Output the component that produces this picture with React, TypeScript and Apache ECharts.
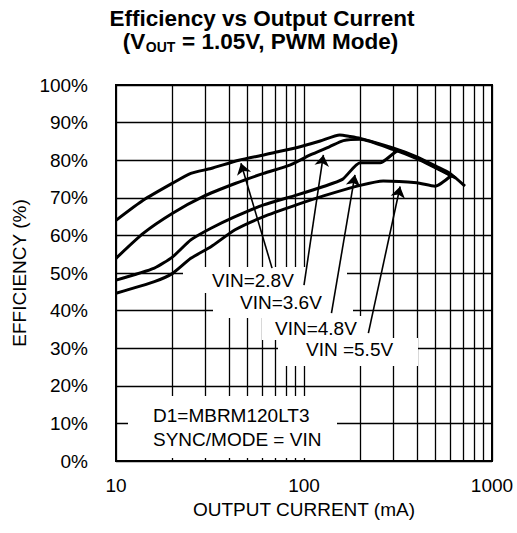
import React, { useEffect, useRef } from 'react';
import * as echarts from 'echarts';

// ---- data ----
const xMajorTicks = [10, 100, 1000];
const xMinorGrid = [20, 30, 40, 50, 60, 70, 80, 90, 200, 300, 400, 500, 600, 700, 800, 900];

const current28 = [10, 14, 20, 25, 32, 45, 61, 69, 91, 122, 155, 176, 199, 300, 398, 508, 598, 718];
const eff28 = [64, 69.4, 73.9, 76.5, 77.8, 80, 81.4, 82, 83.3, 85.1, 86.7, 86.3, 85.8, 83.2, 80.9, 78.3, 76.5, 73.1];

const current36 = [10, 14, 20, 29, 43, 61, 84, 108, 137, 162, 199, 300, 398, 508, 640];
const eff36 = [53.9, 60.6, 65.9, 70.3, 73.8, 76.5, 78.7, 81.4, 83.6, 85.2, 85.6, 82.8, 80.4, 77.8, 75.3];

const current48 = [10, 16, 20, 25, 32, 43, 61, 91, 127, 160, 199, 254, 318, 398, 508, 620];
const eff48 = [48.1, 51.3, 54.3, 58.8, 61.9, 65, 68.1, 70.7, 73, 74.9, 79.3, 79.3, 82.5, 80.6, 78, 75.6];

const current55 = [10, 16, 20, 25, 32, 43, 61, 91, 127, 199, 264, 398, 498, 610];
const eff55 = [44.6, 47.7, 49.9, 53.9, 57, 61.5, 65, 68.1, 70.5, 73.3, 74.5, 74, 73.1, 76];

const seriesNames = ['VIN=2.8V', 'VIN=3.6V', 'VIN=4.8V', 'VIN =5.5V'];
const arrowTailX = [67.6, 100, 140, 220];
const arrowTailY = [51.3, 46.8, 39.3, 34.0];
const arrowTipX = [46.2, 126.8, 186.6, 324.5];
const arrowTipY = [79.2, 81.4, 76.1, 73.0];

const titleLine1 = 'Efficiency vs Output Current';
const titleLine2Parts = ['(V', 'OUT', ' = 1.05V, PWM Mode)'];
const noteLines = ['D1=MBRM120LT3', 'SYNC/MODE = VIN'];

const FONT = '"Liberation Sans", Arial, Helvetica, sans-serif';

function pairs(xs: number[], ys: number[]) {
  return xs.map((x, i) => [x, ys[i]]);
}

export default function App() {
  const ref = useRef<HTMLDivElement>(null);
  useEffect(() => {
    if (!ref.current) return;
    const chart = echarts.init(ref.current, null, { renderer: 'svg' });
    const curveStyle = { color: '#000', width: 3 };
    const curve = (name: string, xs: number[], ys: number[]) => ({
      name,
      type: 'line',
      data: pairs(xs, ys),
      showSymbol: false,
      smooth: 0.2,
      lineStyle: curveStyle,
      itemStyle: { color: '#000' },
      z: 10,
      silent: true,
    });

    const labelBox = (x: number, y: number, w: number, h: number) => ({
      type: 'rect',
      shape: { x, y, width: w, height: h },
      style: { fill: '#fff' },
      z: 8,
      silent: true,
    });
    const label = (text: string, x: number, y: number) => ({
      type: 'text',
      x,
      y,
      style: { text, fill: '#000', font: `19px ${FONT}`, textAlign: 'left', textVerticalAlign: 'middle' },
      z: 9,
      silent: true,
    });

    // title line 2 layout (bold 22.5px main, 14px subscript)
    const mainSize = 22.5;
    const subSize = 14;
    const wV = 1.0 * mainSize; // "(V"
    const wSub = 2.111 * subSize; // "OUT"
    const wRest = 9.975 * mainSize;
    const start = 261 - (wV + wSub + wRest) / 2;

    chart.setOption({
      animation: false,
      textStyle: { fontFamily: FONT },
      grid: {
        left: 116,
        top: 85,
        width: 376,
        height: 376,
        show: true,
        borderColor: '#000',
        borderWidth: 2,
        backgroundColor: 'transparent',
      },
      xAxis: {
        type: 'log',
        logBase: 10,
        min: xMajorTicks[0],
        max: xMajorTicks[xMajorTicks.length - 1],
        axisLine: { show: true, lineStyle: { color: '#000', width: 2 } },
        axisTick: { show: false },
        axisLabel: {
          color: '#000',
          fontSize: 19,
          margin: 15,
          formatter: (v: number) => String(Math.round(v)),
        },
        splitLine: { show: true, lineStyle: { color: '#000', width: 1.3 } },
        name: 'OUTPUT CURRENT (mA)',
        nameLocation: 'middle',
        nameGap: 32,
        nameTextStyle: { color: '#000', fontSize: 19, verticalAlign: 'top' },
      },
      yAxis: {
        type: 'value',
        min: 0,
        max: 100,
        interval: 10,
        axisLine: { show: true, lineStyle: { color: '#000', width: 2 } },
        axisTick: { show: false },
        axisLabel: { color: '#000', fontSize: 19, margin: 28, formatter: '{value}%' },
        splitLine: { show: true, lineStyle: { color: '#000', width: 1.3 } },
        name: 'EFFICIENCY (%)',
        nameLocation: 'middle',
        nameRotate: 90,
        nameGap: 69,
        nameTextStyle: { color: '#000', fontSize: 19 },
      },
      graphic: [
        {
          type: 'text',
          x: 262,
          y: 18,
          style: {
            text: titleLine1,
            fill: '#000',
            font: `bold ${mainSize}px ${FONT}`,
            textAlign: 'center',
            textVerticalAlign: 'middle',
          },
          silent: true,
        },
        {
          type: 'text',
          x: start + wV,
          y: 41,
          style: {
            text: titleLine2Parts[0],
            fill: '#000',
            font: `bold ${mainSize}px ${FONT}`,
            textAlign: 'right',
            textVerticalAlign: 'middle',
          },
          silent: true,
        },
        {
          type: 'text',
          x: start + wV + 0.5,
          y: 47,
          style: {
            text: titleLine2Parts[1],
            fill: '#000',
            font: `bold ${subSize}px ${FONT}`,
            textAlign: 'left',
            textVerticalAlign: 'middle',
          },
          silent: true,
        },
        {
          type: 'text',
          x: start + wV + wSub + 1,
          y: 41,
          style: {
            text: titleLine2Parts[2],
            fill: '#000',
            font: `bold ${mainSize}px ${FONT}`,
            textAlign: 'left',
            textVerticalAlign: 'middle',
          },
          silent: true,
        },
        labelBox(183, 267, 164, 26),
        labelBox(213, 292, 140, 26),
        labelBox(262, 316, 103, 24),
        labelBox(278, 338, 140, 28),
        labelBox(128, 396, 209, 62),
        label(seriesNames[0], 212, 280),
        label(seriesNames[1], 240, 302),
        label(seriesNames[2], 275, 328),
        label(seriesNames[3], 306, 349),
        label(noteLines[0], 153, 415),
        label(noteLines[1], 153, 439),
      ],
      series: [
        {
          type: 'line',
          data: [],
          z: 1,
          silent: true,
          markLine: {
            z: 1,
            silent: true,
            symbol: ['none', 'none'],
            label: { show: false },
            lineStyle: { color: '#000', width: 1.3, type: 'solid' },
            emphasis: { disabled: true },
            data: xMinorGrid.map((v) => ({ xAxis: v })),
          },
        },
        curve(seriesNames[0], current28, eff28),
        curve(seriesNames[1], current36, eff36),
        curve(seriesNames[2], current48, eff48),
        curve(seriesNames[3], current55, eff55),
        {
          type: 'line',
          data: [],
          z: 12,
          silent: true,
          markLine: {
            z: 12,
            silent: true,
            symbol: ['none', 'arrow'],
            symbolSize: 11,
            label: { show: false },
            lineStyle: { color: '#000', width: 1.6, type: 'solid' },
            emphasis: { disabled: true },
            data: arrowTailX.map((x, i) => [
              { coord: [x, arrowTailY[i]] },
              { coord: [arrowTipX[i], arrowTipY[i]] },
            ]),
          },
        },
      ],
    });
    return () => chart.dispose();
  }, []);
  return (
    <div
      ref={ref}
      style={{ position: 'fixed', left: 0, top: 0, width: 517, height: 533, background: '#fff' }}
    />
  );
}
